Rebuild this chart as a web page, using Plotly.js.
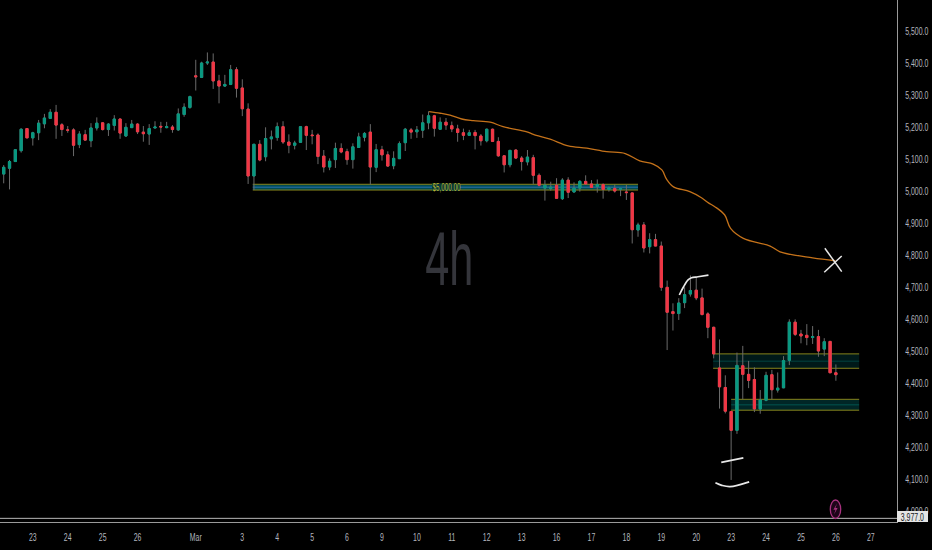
<!DOCTYPE html>
<html>
<head>
<meta charset="utf-8">
<script src="https://cdn.plot.ly/plotly-3.0.1.min.js"></script>
<style>html,body{margin:0;padding:0;background:#000;overflow:hidden}#chart{width:932px;height:550px}</style>
</head>
<body>
<div id="chart"></div>
<script>
const open = [
5053,5071,5092,5126,5195,5166,5182,5210,5227,5246,
5207,5191,5191,5145,5176,5157,5197,5213,5192,5205,
5225,5172,5198,5209,5184,5178,5197,5202,5198,5200,
5191,5239,5261,5360,5355,5400,5403,5344,5328,5333,
5379,5322,5256,5047,5146,5107,5163,5167,5201,5153,
5143,5152,5201,5175,5175,5109,5075,5098,5133,5123,
5098,5136,5168,5184,5074,5129,5113,5079,5101,5151,
5191,5185,5190,5213,5235,5193,5215,5204,5194,5182,
5174,5183,5172,5157,5193,5155,5110,5082,5128,5103,
5091,5104,5049,5009,5008,5018,4976,5034,4997,5009,
5030,5022,5014,5020,5005,5008,5006,4997,4994,4878,
4894,4826,4848,4828,4699,4623,4617,4651,4678,4690,
4666,4616,4574,4447,4386,4311,4252,4454,4427,4411,
4319,4346,4426,4378,4385,4471,4590,4553,4549,4542,
4545,4506,4530,4432];
const high = [
5081,5097,5129,5196,5196,5185,5222,5241,5256,5269,
5212,5203,5196,5187,5191,5212,5230,5215,5212,5237,
5226,5212,5222,5212,5203,5209,5218,5216,5216,5206,
5258,5274,5298,5410,5404,5433,5430,5363,5363,5394,
5387,5349,5274,5147,5159,5199,5189,5214,5218,5177,
5157,5201,5204,5191,5180,5128,5102,5151,5149,5132,
5149,5182,5184,5209,5147,5141,5124,5124,5155,5197,
5197,5203,5239,5249,5238,5230,5228,5217,5207,5195,
5191,5191,5178,5195,5195,5168,5111,5128,5130,5109,
5128,5113,5055,5034,5029,5040,5040,5043,5027,5034,
5049,5034,5036,5024,5014,5020,5010,5019,4995,4901,
4903,4868,4866,4842,4720,4649,4665,4699,4736,4732,
4695,4621,4576,4536,4424,4312,4495,4516,4469,4449,
4378,4435,4441,4433,4484,4599,4599,4566,4584,4578,
4566,4540,4530,4458];
const low = [
5024,5005,5092,5120,5166,5142,5159,5196,5227,5163,
5172,5182,5109,5134,5157,5137,5189,5189,5172,5189,
5163,5169,5197,5178,5154,5144,5196,5182,5196,5182,
5188,5232,5257,5314,5353,5394,5319,5274,5326,5331,
5292,5234,5022,5003,5093,5093,5130,5157,5147,5118,
5130,5151,5128,5146,5084,5058,5065,5072,5118,5082,
5070,5135,5155,5020,5059,5095,5075,5068,5101,5125,
5163,5166,5166,5193,5170,5191,5191,5184,5154,5159,
5172,5130,5142,5152,5153,5107,5058,5074,5100,5064,
5080,5022,5014,4970,5001,4977,4972,4978,4995,4998,
5020,5010,4995,4976,4998,4995,4984,4972,4836,4857,
4808,4805,4828,4688,4503,4564,4597,4634,4670,4659,
4611,4540,4477,4320,4305,4097,4241,4349,4384,4309,
4304,4343,4349,4370,4384,4456,4547,4524,4518,4522,
4482,4484,4432,4407];
const close = [
5074,5092,5129,5193,5166,5182,5212,5228,5246,5206,
5192,5190,5143,5178,5159,5197,5212,5192,5209,5225,
5181,5199,5209,5185,5179,5195,5200,5200,5201,5192,
5241,5262,5295,5357,5400,5403,5344,5328,5333,5379,
5321,5257,5047,5146,5097,5164,5169,5201,5153,5143,
5150,5201,5174,5173,5108,5075,5093,5133,5122,5098,
5138,5169,5180,5075,5129,5113,5078,5102,5148,5193,
5184,5191,5213,5235,5196,5215,5206,5194,5183,5174,
5182,5173,5157,5193,5155,5110,5082,5127,5103,5092,
5106,5049,5018,5018,5012,4977,5034,4996,5009,5030,
5022,5011,5020,5005,5010,5000,5007,4995,4879,4894,
4822,4848,4828,4699,4621,4617,4650,4676,4689,4666,
4614,4574,4491,4388,4312,4252,4455,4427,4408,4319,
4347,4424,4379,4384,4470,4590,4552,4547,4542,4545,
4500,4529,4432,4426];

const tickIndex = [5,11,17,23,33,41,47,53,59,65,71,77,83,89,95,101,107,113,119,125,131,137,143,149];
const tickLabels = ["23","24","25","26","Mar","3","4","5","6","9","10","11","12","13","16","17","18","19","20","23","24","25","26","27"];
const priceTicks = [4000,4100,4200,4300,4400,4500,4600,4700,4800,4900,5000,5100,5200,5300,5400,5500];

const emaIndex = [73.1,75,76.7,78.7,80.7,83.6,85.8,89.9,91,93.9,97,100.2,103.6,106.8,109.3,111.6,113.1,113.9,115.1,117.9,119.9,121.1,122.2,123.9,124.9,127.1,131.7,133.4,139,142.9];
const emaValue = [5248,5243,5237,5225,5220,5215,5201,5185,5177,5162,5141,5134,5123,5117,5094,5084,5066,5037,5013,4998,4979,4963,4951,4925,4883,4852,4828,4810,4791,4782];

const zoneStart = [42.8,121.9,125];
const zoneEnd = [109,147,147];
const zoneTop = [5021,4491,4349];
const zoneMid = [5012,4468,4332];
const zoneBottom = [5003,4446,4315];
const zoneFill = ["rgba(0,125,140,0.6)","rgba(0,125,125,0.2)","rgba(0,125,125,0.3)"];
const zoneMidColor = ["rgba(40,110,170,0.7)","rgba(0,140,130,0.25)","rgba(0,140,130,0.3)"];

const archIndex = [116.1,116.8,117.6,118.2,119.3,121.1];
const archPrice = [4675,4700,4722,4729,4732,4737];
const barIndex = [123.3,127.1];
const barPrice = [4152,4166];
const smileIndex = [122.3,123.4,124.8,128.1];
const smilePrice = [4088,4080,4076,4091];
const crossAIndex = [141.1,144];
const crossAPrice = [4821,4748];
const crossBIndex = [141,144];
const crossBPrice = [4746,4797];

const lastPrice = 3977;
const idx = open.map((_, i) => i);
const bodyHigh = open.map((o, i) => Math.max(o, close[i]));
const bodyLow = open.map((o, i) => Math.min(o, close[i]));

const GREEN = "#089981", RED = "#F23645", WICK = "#6a6a6a", GOLD = "#86841c", TEXT = "#b2b5be";
const FONT = '"Liberation Sans",sans-serif';
const W = 897, H = 522;
const px = (x) => x / W, py = (y) => 1 - y / H;

function stroke(x, y, color, width, shape) {
  return {type:"scatter", mode:"lines", x, y, hoverinfo:"skip", showlegend:false,
          line:{color, width, shape:shape||"linear", smoothing:1}};
}

const traces = [
  {type:"candlestick", x:idx, open, high, low, close, whiskerwidth:0, hoverinfo:"skip", showlegend:false,
   increasing:{line:{color:WICK,width:1},fillcolor:WICK},
   decreasing:{line:{color:WICK,width:1},fillcolor:WICK}},
  {type:"candlestick", x:idx, open, high:bodyHigh, low:bodyLow, close, whiskerwidth:0, hoverinfo:"skip", showlegend:false,
   increasing:{line:{color:GREEN,width:1},fillcolor:GREEN},
   decreasing:{line:{color:RED,width:1},fillcolor:RED}},
  stroke(emaIndex, emaValue, "#c4721a", 1.3, "spline"),
  stroke(archIndex, archPrice, "#e8e8e8", 1.7, "spline"),
  stroke(barIndex, barPrice, "#e8e8e8", 1.7),
  stroke(smileIndex, smilePrice, "#e8e8e8", 1.7, "spline"),
  stroke(crossAIndex, crossAPrice, "#e8e8e8", 1.5),
  stroke(crossBIndex, crossBPrice, "#e8e8e8", 1.5)
];

const shapes = [];
zoneTop.forEach((t, i) => {
  shapes.push({type:"rect", layer:"below", xref:"x", yref:"y", x0:zoneStart[i], x1:zoneEnd[i], y0:zoneBottom[i], y1:t,
               fillcolor:zoneFill[i], line:{width:0}});
  shapes.push({type:"line", layer:"below", xref:"x", yref:"y", x0:zoneStart[i], x1:zoneEnd[i], y0:zoneMid[i], y1:zoneMid[i], line:{color:zoneMidColor[i],width:1.5}});
  shapes.push({type:"line", layer:"below", xref:"x", yref:"y", x0:zoneStart[i], x1:zoneEnd[i], y0:t, y1:t, line:{color:GOLD,width:1}});
  shapes.push({type:"line", layer:"below", xref:"x", yref:"y", x0:zoneStart[i], x1:zoneEnd[i], y0:zoneBottom[i], y1:zoneBottom[i], line:{color:GOLD,width:1}});
});
shapes.push({type:"line", xref:"paper", yref:"y", x0:0, x1:1, y0:lastPrice, y1:lastPrice, line:{color:"#b8b8b8",width:1}});
shapes.push({type:"rect", xref:"paper", yref:"paper", x0:px(432), x1:px(460), y0:py(191), y1:py(183.5),
             fillcolor:"#07383a", line:{width:0}});
shapes.push({type:"rect", xref:"paper", yref:"paper", x0:px(897), x1:px(928), y0:py(522), y1:py(511),
             fillcolor:"#e4e4e4", line:{width:0}});
shapes.push({type:"circle", xref:"paper", yref:"paper", x0:px(830.3), x1:px(840.7), y0:py(518.5), y1:py(500),
             fillcolor:"rgba(60,10,50,0.5)", line:{color:"#a8327f",width:1.3}});
shapes.push({type:"path", xref:"paper", yref:"paper",
             path:`M ${px(837)} ${py(503.5)} L ${px(833.4)} ${py(509.8)} L ${px(835.6)} ${py(509.8)} L ${px(834)} ${py(514.5)} L ${px(837.6)} ${py(508)} L ${px(835.4)} ${py(508)} Z`,
             fillcolor:"#a8327f", line:{width:0}});

const annotations = [
  {xref:"paper", yref:"paper", x:px(449), xanchor:"center", y:py(258), yanchor:"middle", text:"4h", showarrow:false,
   font:{family:FONT, size:76, color:"#34353b"}},
  {xref:"paper", yref:"y", x:px(446), xanchor:"center", y:5012, yanchor:"middle", text:"$5,000.00", showarrow:false, borderpad:0,
   font:{family:FONT, size:11, color:"#b9b32c"}},
  {xref:"paper", yref:"paper", x:px(912.5), xanchor:"center", y:py(516.5), yanchor:"middle", text:"3,977.0", showarrow:false, borderpad:0,
   font:{family:FONT, size:11, color:"#131722"}}
];

const layout = {
  width:932, height:550, paper_bgcolor:"#000", plot_bgcolor:"#000",
  margin:{l:0, r:35, t:0, b:28}, showlegend:false, boxgap:0.45,
  xaxis:{type:"linear", range:[-0.636,153.5], rangeslider:{visible:false}, showgrid:false, zeroline:false,
         tickmode:"array", tickvals:tickIndex, ticktext:tickLabels, ticks:"outside", ticklen:5, tickcolor:"#000",
         showline:true, linecolor:"#9a9a9a", linewidth:1, tickfont:{family:FONT,size:11,color:TEXT}},
  yaxis:{side:"right", range:[3965.6,5596.9], showgrid:false, zeroline:false,
         tickmode:"array", tickvals:priceTicks, tickformat:",.1f", ticks:"outside", ticklen:5, tickcolor:"#000",
         showline:true, linecolor:"#9a9a9a", linewidth:1, tickfont:{family:FONT,size:11,color:TEXT}},
  shapes, annotations
};

function squeeze(el, factor) {
  const x = parseFloat(el.getAttribute("x")) || 0;
  const old = el.getAttribute("transform") || "";
  el.setAttribute("transform", `${old} translate(${x} 0) scale(${factor} 1) translate(${-x} 0)`);
}
Plotly.newPlot("chart", traces, layout, {displayModeBar:false, staticPlot:true}).then(() => {
  document.querySelectorAll(".xtick text, .ytick text").forEach(t => squeeze(t, 0.63));
  document.querySelectorAll(".annotation-text").forEach(t => {
    const s = t.textContent;
    squeeze(t, s === "4h" || s.startsWith("$") ? 0.57 : 0.63);
  });
});
</script>
</body>
</html>
